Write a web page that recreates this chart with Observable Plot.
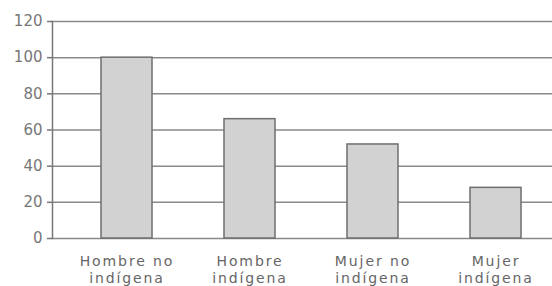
<!DOCTYPE html>
<html>
<head>
<meta charset="utf-8">
<script src="https://cdn.jsdelivr.net/npm/d3@7"></script>
<script src="https://cdn.jsdelivr.net/npm/@observablehq/plot@0.6"></script>
<style>
  html, body { margin: 0; padding: 0; background: #fff; }
  #chart svg { display: block; }
  #chart svg g[aria-label="x-axis tick label"] text { letter-spacing: 1.9px; }
</style>
</head>
<body>
<div id="chart"></div>
<script>
const categories = ["Hombre no indígena", "Hombre indígena", "Mujer no indígena", "Mujer indígena"];
const categoryLabels = ["Hombre no\nindígena", "Hombre\nindígena", "Mujer no\nindígena", "Mujer\nindígena"];
const values = [100, 66, 52, 28];
const yTicks = [0, 20, 40, 60, 80, 100, 120];

const data = categories.map((c, i) => ({category: c, value: values[i]}));
const labelOf = new Map(categories.map((c, i) => [c, categoryLabels[i]]));

const chart = Plot.plot({
  width: 552,
  height: 286,
  marginLeft: 52,
  marginRight: 0,
  marginTop: 21,
  marginBottom: 48,
  style: {fontFamily: "DejaVu Sans", fontSize: "14px", color: "#6a6a6a", background: "#fff"},
  x: {domain: categories, range: [64, 558], paddingInner: 0.585, paddingOuter: 0.2925, label: null},
  y: {domain: [0, 120], label: null},
  marks: [
    Plot.ruleY(yTicks, {stroke: "#8a8a8a", strokeWidth: 1.5}),
    Plot.barY(data, {x: "category", y: "value", fill: "#d2d2d2", stroke: "#6f6f6f", strokeWidth: 1.5}),
    Plot.axisY(yTicks, {tickSize: 5, tickPadding: 5, stroke: "#777", strokeWidth: 1.5, fill: "#777", fontSize: 15, label: null}),
    Plot.axisX({tickSize: 0, tickPadding: 16, tickFormat: (d) => labelOf.get(d), fill: "#666", fontSize: 14, lineHeight: 1.2, label: null}),
    Plot.frame({anchor: "left", stroke: "#777", strokeWidth: 1.5})
  ]
});
document.getElementById("chart").appendChild(chart);
</script>
</body>
</html>
